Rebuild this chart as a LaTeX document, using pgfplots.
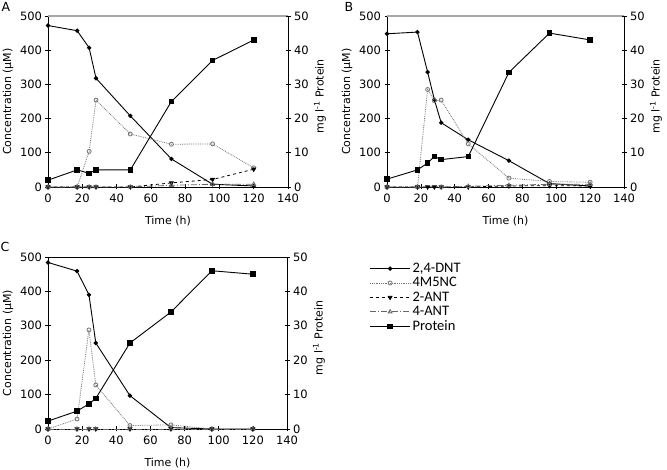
\documentclass[border=0pt]{standalone}
\usepackage{fontspec}
\setmainfont{DejaVu Sans}
\newfontfamily\legfont{Carlito}
\usepackage{pgfplots}
\pgfplotsset{compat=1.18}

\pgfplotsset{
 base/.style={scale only axis, xmin=0, xmax=140, clip=false,
   tick align=center, major tick length=5pt,
   tick style={black, line width=0.6pt},
   axis line style={-, line width=0.8pt, black},
   tick label style={font=\fontsize{11.5}{13}\selectfont},
   /pgf/number format/assume math mode=true},
 leftax/.style={base, ymin=0, ymax=500, ytick={0,100,...,500}, xtick={0,20,...,140},
   axis x line*=bottom, axis y line*=left,
   xticklabel style={yshift=-1pt},
   xlabel={Time (h)}, ylabel={Concentration (μM)},
   every axis x label/.style={at={(rel axis cs:0.5,0)}, yshift=-34pt, anchor=center, font=\fontsize{11}{13}\selectfont},
   every axis y label/.style={at={(rel axis cs:0,0.5)}, xshift=-40pt, rotate=90, anchor=center, font=\fontsize{11}{13}\selectfont}},
 rightax/.style={base, ymin=0, ymax=50, ytick={0,10,...,50}, axis x line=none, axis y line*=right,
   ylabel={mg l\textsuperscript{-1} Protein},
   every axis y label/.style={at={(rel axis cs:1,0.53)}, xshift=32pt, rotate=90, anchor=center, font=\fontsize{11}{13}\selectfont}},
 dnt/.style={black, line width=0.9pt, mark=*, mark size=1.7pt, mark options={solid}},
 mnc/.style={black!55, densely dotted, line width=0.8pt, mark=o, mark size=2pt, mark options={solid, fill=white}},
 ant2/.style={black, dashed, line width=0.8pt, mark=triangle*, mark size=2.2pt, mark options={solid, rotate=180}},
 ant4/.style={black!60, dash pattern=on 6pt off 2pt on 1pt off 2pt, line width=0.8pt, mark=triangle, mark size=2.2pt, mark options={solid, fill=white}},
 prot/.style={black, line width=0.9pt, mark=square*, mark size=2.3pt, mark options={solid}},
}

\begin{document}
\begin{tikzpicture}[x=1pt,y=1pt]
\useasboundingbox (0,0) rectangle (667,470);

% ---------- Panel A ----------
\begin{axis}[leftax, at={(48pt,283pt)}, anchor=south west, width=240pt, height=171pt]
\addplot[dnt] coordinates {(0,472) (17,457) (24,407) (28,318) (48,208) (72,82) (96,8) (120,3)};
\addplot[mnc] coordinates {(0,0) (17,0) (24,104) (28,254) (48,155) (72,125) (96,126) (120,56)};
\addplot[ant2] coordinates {(0,0) (17,0) (24,0) (28,0) (48,0) (72,12) (96,22) (120,52)};
\addplot[ant4] coordinates {(0,0) (17,0) (24,0) (28,0) (48,0) (72,5) (96,8) (120,8)};
\draw[gray!70, line width=1.5pt] (rel axis cs:0,1) -- (rel axis cs:1,1);
\end{axis}
\begin{axis}[rightax, at={(48pt,283pt)}, anchor=south west, width=240pt, height=171pt]
\addplot[prot] coordinates {(0,2) (17,5) (24,4) (28,5) (48,5) (72,25) (96,37) (120,43)};
\end{axis}

% ---------- Panel B ----------
\begin{axis}[leftax, at={(387pt,283pt)}, anchor=south west, width=237pt, height=171pt]
\addplot[dnt] coordinates {(0,448) (18,453) (24,336) (28,255) (32,188) (48,138) (72,77) (96,10) (120,3)};
\addplot[mnc] coordinates {(0,0) (18,0) (24,285) (28,252) (32,254) (48,126) (72,26) (96,16) (120,14)};
\addplot[ant2] coordinates {(0,0) (18,0) (24,0) (28,0) (32,0) (48,0) (72,3) (96,4) (120,3)};
\addplot[ant4] coordinates {(0,0) (18,0) (32,0) (48,2) (72,5) (96,8) (120,8)};
\draw[gray!70, line width=1.5pt] (rel axis cs:0,1) -- (rel axis cs:1,1);
\end{axis}
\begin{axis}[rightax, at={(387pt,283pt)}, anchor=south west, width=237pt, height=171pt]
\addplot[prot] coordinates {(0,2.3) (18,5) (24,7) (28,8.9) (32,8) (48,8.9) (72,33.5) (96,45) (120,43)};
\end{axis}

% ---------- Panel C ----------
\begin{axis}[leftax, at={(48pt,41pt)}, anchor=south west, width=239pt, height=172pt,
  legend cell align=left,
  legend style={at={(rel axis cs:1.345,0.977)}, anchor=north west, draw=none, fill=none,
    font=\legfont\fontsize{14.5}{16}\selectfont, row sep=-0.5pt, inner sep=0pt},
  legend image code/.code={\draw[mark repeat=2, mark phase=2] plot coordinates {(0pt,0pt) (20pt,0pt) (40pt,0pt)};}]
\addplot[dnt] coordinates {(0,484) (17,459) (24,390) (28,250) (48,97) (72,4) (96,0) (120,0)};
\addlegendentry{2,4-DNT}
\addplot[mnc] coordinates {(0,0) (17,29) (24,288) (28,128) (48,10) (72,12) (96,0) (120,0)};
\addlegendentry{4M5NC}
\addplot[ant2] coordinates {(0,0) (17,0) (24,0) (28,0) (48,0) (72,0) (96,0) (120,0)};
\addlegendentry{2-ANT}
\addplot[ant4] coordinates {(0,0) (17,0) (24,0) (28,0) (48,0) (72,0) (96,0) (120,0)};
\addlegendentry{4-ANT}
\addlegendimage{prot}
\addlegendentry{Protein}
\draw[black, line width=0.8pt] (rel axis cs:0,1) -- (rel axis cs:1,1);
\end{axis}
\begin{axis}[rightax, at={(48pt,41pt)}, anchor=south west, width=239pt, height=172pt]
\addplot[prot] coordinates {(0,2.3) (17,5.2) (24,7.3) (28,8.9) (48,25) (72,34) (96,46) (120,45)};
\end{axis}

\node[font=\fontsize{12.5}{15}\selectfont] at (6,463) {A};
\node[font=\fontsize{12.5}{15}\selectfont] at (349,463) {B};
\node[font=\fontsize{12.5}{15}\selectfont] at (5,223) {C};
\end{tikzpicture}
\end{document}
